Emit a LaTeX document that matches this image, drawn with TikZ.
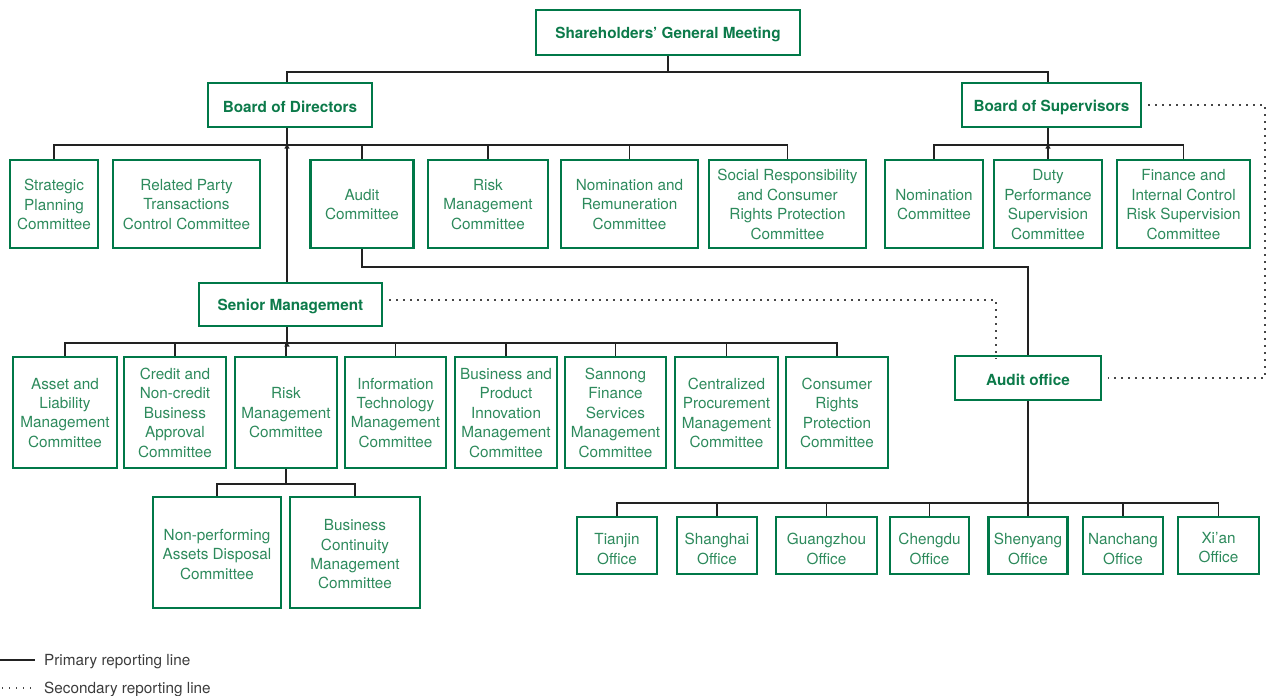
\documentclass[tikz,border=0pt]{standalone}
\usepackage{fontspec}
\setmainfont{TeX Gyre Heros}
\usetikzlibrary{shapes.geometric}
\definecolor{boxgreen}{RGB}{0,120,72}
\definecolor{boldgreen}{RGB}{12,122,74}
\definecolor{lightgreen}{RGB}{45,138,92}
\definecolor{linegray}{RGB}{34,34,34}
\definecolor{dotgray}{RGB}{70,70,70}
\definecolor{legendgray}{RGB}{60,60,60}
\tikzset{
  box/.style={draw=boxgreen, line width=2.3pt, inner sep=0pt},
  boxtxt/.style={text=lightgreen, align=center, inner sep=0pt,
    font=\fontsize{15.3}{19.4}\selectfont},
  mainbox/.style={box},
  mainboxtxt/.style={boxtxt, text=boldgreen, font=\fontsize{15.3}{19.4}\selectfont\bfseries},
  prim/.style={draw=linegray, line width=1.6pt},
  sec/.style={draw=dotgray, line width=1.4pt, dash pattern=on 1.4pt off 5.6pt},
  junc/.style={regular polygon, regular polygon sides=3, fill=linegray, inner sep=0pt, minimum size=6pt},
  legend/.style={anchor=west, text=legendgray, inner sep=0pt, font=\fontsize{15.3}{18}\selectfont}
}
% \bx{style}{name}{x}{y}{width}{height}{text shift down}{text}
\newcommand\bx[8]{%
  \node[#1, minimum width=#5pt, minimum height=#6pt] (#2) at (#3,#4) {};
  \node[#1txt] (#2-t) at ([yshift=-#7pt]#2.center) {#8};}
\begin{document}
\begin{tikzpicture}[x=1pt,y=-1pt]
\useasboundingbox (0,0) rectangle (1267,696);
% top level
\bx{mainbox}{sgm}{668}{32.5}{264}{45}{2}{Shareholders' General Meeting}
\bx{mainbox}{bod}{290}{105}{164}{44}{1.5}{Board of Directors}
\bx{mainbox}{bos}{1051.5}{105}{179}{44}{2}{Board of Supervisors}
% board committees
\bx{box}{strat}{54}{204}{88}{88}{0.5}{Strategic\\Planning\\Committee}
\bx{box}{rel}{186.5}{204}{147}{88}{0.5}{Related Party\\Transactions\\Control Committee}
\bx{box}{audc}{362}{204}{103}{88}{0.5}{Audit\\Committee}
\bx{box}{riskc}{488}{204}{120}{88}{0.5}{Risk\\Management\\Committee}
\bx{box}{nomrem}{629.5}{204}{137}{88}{0.5}{Nomination and\\Remuneration\\Committee}
\bx{box}{social}{787.5}{204}{157}{88}{0.5}{Social Responsibility\\and Consumer\\Rights Protection\\Committee}
\bx{box}{nomc}{934}{204}{98}{88}{0.5}{Nomination\\Committee}
\bx{box}{duty}{1048}{204}{108}{88}{0.5}{Duty\\Performance\\Supervision\\Committee}
\bx{box}{fin}{1183.5}{204}{133}{88}{0.5}{Finance and\\Internal Control\\Risk Supervision\\Committee}
% senior management and audit office
\bx{mainbox}{sm}{290.5}{304.5}{183}{43}{2}{Senior Management}
\bx{mainbox}{ao}{1028}{378}{146}{44}{1.5}{Audit office}
% senior management committees
\bx{box}{alm}{65}{412.5}{104}{111}{0.3}{Asset and\\Liability\\Management\\Committee}
\bx{box}{credit}{175}{412.5}{102}{111}{0.3}{Credit and\\Non-credit\\Business\\Approval\\Committee}
\bx{box}{riskm}{286}{412.5}{102}{111}{0.3}{Risk\\Management\\Committee}
\bx{box}{itm}{395.5}{412.5}{101}{111}{0.3}{Information\\Technology\\Management\\Committee}
\bx{box}{bpi}{506}{412.5}{102}{111}{0.3}{Business and\\Product\\Innovation\\Management\\Committee}
\bx{box}{sann}{615.5}{412.5}{101}{111}{0.3}{Sannong\\Finance\\Services\\Management\\Committee}
\bx{box}{cpm}{726.5}{412.5}{103}{111}{0.3}{Centralized\\Procurement\\Management\\Committee}
\bx{box}{crp}{837}{412.5}{102}{111}{0.3}{Consumer\\Rights\\Protection\\Committee}
\bx{box}{npa}{217}{552.5}{128}{111}{1.8}{Non-performing\\Assets Disposal\\Committee}
\bx{box}{bcm}{355}{552.5}{130}{111}{1.8}{Business\\Continuity\\Management\\Committee}
% offices
\bx{box}{tj}{617}{545.5}{80}{57}{3.5}{Tianjin\\Office}
\bx{box}{sh}{717}{545.5}{80}{57}{3.5}{Shanghai\\Office}
\bx{box}{gz}{826.5}{545.5}{101}{57}{3.5}{Guangzhou\\Office}
\bx{box}{cd}{929.5}{545.5}{79}{57}{3.5}{Chengdu\\Office}
\bx{box}{sy}{1028}{545.5}{79}{57}{3.5}{Shenyang\\Office}
\bx{box}{nc}{1123}{545.5}{80}{57}{3.5}{Nanchang\\Office}
\bx{box}{xa}{1218.5}{545.5}{81}{57}{2}{Xi'an\\Office}
% bus coordinates
\coordinate (b0) at (0,72);
\coordinate (b1) at (0,145);
\coordinate (b2) at (0,267);
\coordinate (b3) at (0,343);
\coordinate (b5) at (0,484);
\coordinate (b4) at (0,503);
\coordinate (j1) at (287,145);
\coordinate (j2) at (1048,145);
\coordinate (j3) at (287,343);
\coordinate (d1) at (996,300);
\coordinate (d2) at (1265,105);
\coordinate (d3) at (1265,378);
% primary lines: top
\draw[prim] (sgm.south) -- (sgm.south |- b0);
\draw[prim] (j1 |- bod.north) -- (j1 |- b0) -- (j2 |- b0) -- (j2 |- bos.north);
% board of directors
\draw[prim] (j1 |- bod.south) -- (j1 |- sm.north);
\draw[prim] (strat.north) |- (social.north |- b1) -- (social.north);
\draw[prim] (audc.north) -- (audc.north |- b1);
\draw[prim] (riskc.north) -- (riskc.north |- b1);
\draw[prim] (nomrem.north) -- (nomrem.north |- b1);
% board of supervisors
\draw[prim] (j2 |- bos.south) -- (j2 |- duty.north);
\draw[prim] (nomc.north) |- (fin.north |- b1) -- (fin.north);
% audit committee to audit office
\draw[prim] (audc.south) |- (ao.north |- b2) -- (ao.north);
% senior management
\draw[prim] (j1 |- sm.south) -- (j3);
\draw[prim] (alm.north) |- (crp.north |- b3) -- (crp.north);
\foreach \n in {credit,riskm,itm,bpi,sann,cpm} {\draw[prim] (\n.north) -- (\n.north |- b3);}
\draw[prim] (riskm.south) -- (riskm.south |- b5);
\draw[prim] (npa.north) |- (bcm.north |- b5) -- (bcm.north);
% offices
\draw[prim] (ao.south) -- (ao.south |- b4);
\draw[prim] (tj.north) |- (xa.north |- b4) -- (xa.north);
\foreach \n in {sh,gz,cd,sy,nc} {\draw[prim] (\n.north) -- (\n.north |- b4);}
% junction marks
\node[junc] (t1) at ([yshift=-2pt]j1) {};
\node[junc] (t2) at ([yshift=-2pt]j2) {};
\node[junc] (t3) at ([yshift=-2pt]j3) {};
% secondary lines
\draw[sec] ([xshift=6pt]sm.east |- d1) -- (d1) -- ([yshift=-4pt]d1 |- ao.north);
\draw[sec] ([xshift=6pt]bos.east |- d2) -- (d2) -- (d3) -- ([xshift=6pt]ao.east |- d3);
% legend
\coordinate (l1a) at (0,660);
\coordinate (l1b) at (35,660);
\coordinate (l2a) at (2,688);
\coordinate (l2b) at (35,688);
\draw[prim] (l1a) -- (l1b);
\draw[sec] (l2a) -- (l2b);
\node[legend] (leg1) at (44,661.5) {Primary reporting line};
\node[legend] (leg2) at (44,689) {Secondary reporting line};
\end{tikzpicture}
\end{document}
